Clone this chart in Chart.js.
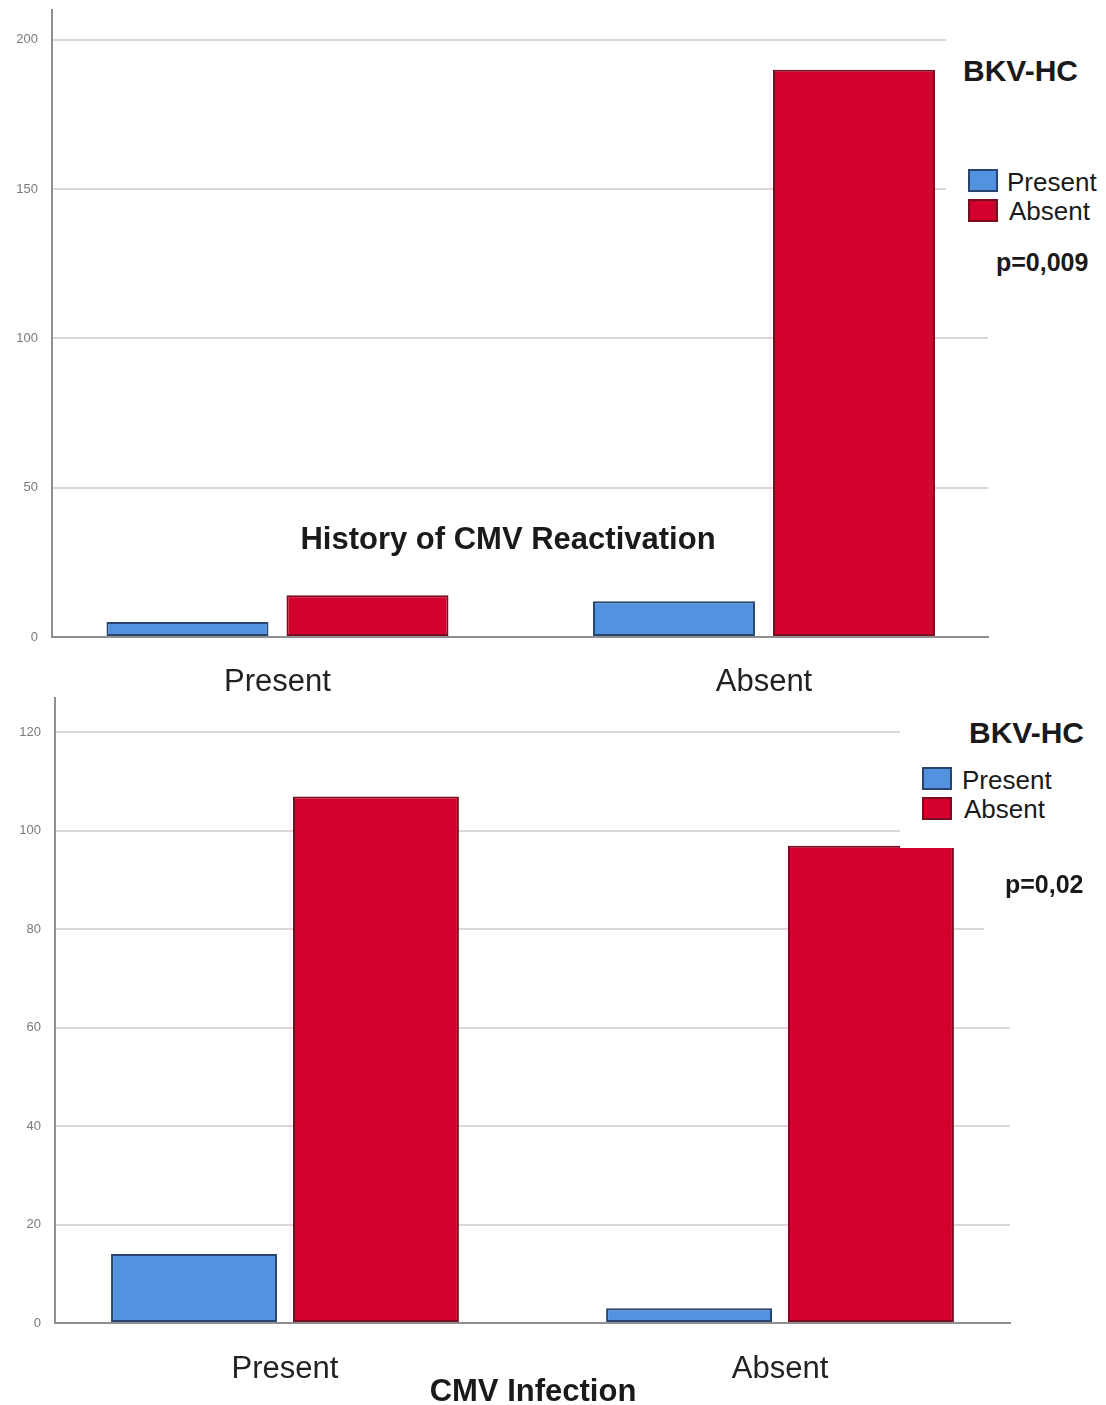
<!DOCTYPE html>
<html>
<head>
<meta charset="utf-8">
<script src="https://cdn.jsdelivr.net/npm/chart.js@4.4.1/dist/chart.umd.min.js"></script>
<style>
    body { margin: 0; background: #fff; font-family: "Liberation Sans", Arial, sans-serif; }
    #page { position: relative; width: 1106px; height: 1405px; overflow: hidden; }
    canvas { position: absolute; left: 0; }
    .txt { position: absolute; white-space: nowrap; line-height: 1; color: #1a1a1a; }
    .bold { font-weight: bold; }
    .cover { position: absolute; background: #fff; }
    .swatch { position: absolute; width: 26px; height: 19px; border: 2px solid; }
</style>
</head>
<body>
<div id="page">
    <canvas id="graficoReativacao" width="1106" height="700" style="top:0"></canvas>
    <canvas id="graficoInfeccao" width="1106" height="715" style="top:690px"></canvas>
</div>

<script>
const categorias = ["Present", "Absent"];
const grupos = ["Present", "Absent"];

// BKV-HC counts, by history of CMV reactivation
const reativacaoPresent = [5, 12];
const reativacaoAbsent = [14, 190];
const reativacaoTicks = [0, 50, 100, 150, 200];

// BKV-HC counts, by CMV infection
const infeccaoPresent = [14, 3];
const infeccaoAbsent = [107, 97];
const infeccaoTicks = [0, 20, 40, 60, 80, 100, 120];

const cores = ["#5392df", "#d3002d"];
const bordas = ["#27456f", "#7a0c20"];

Chart.defaults.font.family = "'Liberation Sans', Arial, sans-serif";
Chart.defaults.animation = false;

function dataset(label, valores, i, barPct) {
    return {
        label: label,
        // category index on x, count on y
        data: valores.map((v, k) => ({ x: k, y: v })),
        backgroundColor: cores[i],
        borderColor: bordas[i],
        borderWidth: 2,
        borderSkipped: false,
        barPercentage: barPct
    };
}

function makeChart(id, serieA, serieB, opts) {
    const ctx = document.getElementById(id);
    return new Chart(ctx, {
        type: "bar",
        data: {
            datasets: [
                dataset(grupos[0], serieA, 0, opts.barPct),
                dataset(grupos[1], serieB, 1, opts.barPct)
            ]
        },
        options: {
            responsive: false,
            categoryPercentage: opts.catPct,
            layout: { padding: { left: 0, right: opts.right, top: opts.top, bottom: 0 } },
            plugins: { legend: { display: false }, tooltip: { enabled: false } },
            scales: {
                x: {
                    type: "linear",
                    offset: false,
                    min: opts.xMin,
                    max: opts.xMax,
                    grid: { display: false },
                    border: { color: "#8f8f8f", width: 2 },
                    ticks: {
                        color: "#222",
                        font: { size: 31 },
                        padding: opts.xPad,
                        callback: v => categorias[v]
                    },
                    afterBuildTicks: s => { s.ticks = categorias.map((c, i) => ({ value: i })); },
                    afterFit: s => { s.height = opts.xHeight; }
                },
                y: {
                    min: 0,
                    max: opts.max,
                    grid: { color: "#d8d8d8", lineWidth: 2, drawTicks: false },
                    border: { color: "#8f8f8f", width: 2 },
                    ticks: { color: "#7a7a7a", font: { size: 13 }, padding: 14 },
                    afterBuildTicks: s => { s.ticks = opts.ticks.map(v => ({ value: v })); },
                    afterFit: s => {
                        s.width = opts.left;
                        // let the axis run right up to the layout padding
                        s.paddingTop = 0;
                        s.paddingBottom = 0;
                    }
                }
            }
        }
    });
}

makeChart("graficoReativacao", reativacaoPresent, reativacaoAbsent, {
    max: 210, ticks: reativacaoTicks, left: 52, right: 118, top: 10,
    xMin: -0.4635, xMax: 1.4605,
    xHeight: 63, xPad: 19, catPct: 0.74, barPct: 0.9
});

makeChart("graficoInfeccao", infeccaoPresent, infeccaoAbsent, {
    max: 127, ticks: infeccaoTicks, left: 55, right: 96, top: 8,
    xMin: -0.4646, xMax: 1.4646,
    xHeight: 82, xPad: 20, catPct: 0.735, barPct: 0.912
});

// overlay text: axis titles, legends and p-values
const page = document.getElementById("page");

function addBox(x, y, w, h) {
    const d = document.createElement("div");
    d.className = "cover";
    Object.assign(d.style, { left: x + "px", top: y + "px", width: w + "px", height: h + "px" });
    page.appendChild(d);
}

function addText(txt, x, cy, size, bold, center) {
    const d = document.createElement("div");
    d.className = "txt" + (bold ? " bold" : "");
    d.innerText = txt;
    d.style.fontSize = size + "px";
    d.style.top = (cy - size * 0.49) + "px";
    if (center) {
        d.style.left = (x - 400) + "px";
        d.style.width = "800px";
        d.style.textAlign = "center";
    } else {
        d.style.left = x + "px";
    }
    page.appendChild(d);
}

function addLegend(x, y, textX, cy) {
    grupos.forEach((g, i) => {
        const sw = document.createElement("div");
        sw.className = "swatch";
        Object.assign(sw.style, {
            left: x + "px", top: (y + i * 30) + "px",
            background: cores[i], borderColor: bordas[i]
        });
        page.appendChild(sw);
        addText(g, textX + i * 2, cy + i * 29, 26, false, false);
    });
}

addBox(946, 24, 160, 300);
addText("BKV-HC", 963, 71, 30, true, false);
addLegend(968, 169, 1007, 182);
addText("p=0,009", 996, 262, 25, true, false);
addText("History of CMV Reactivation", 508, 538, 31, true, true);

addBox(900, 698, 206, 150);
addBox(984, 855, 122, 100);
addText("BKV-HC", 969, 733, 30, true, false);
addLegend(922, 767, 962, 780);
addText("p=0,02", 1005, 884, 25, true, false);
addText("CMV Infection", 533, 1390, 31, true, true);
</script>
</body>
</html>
